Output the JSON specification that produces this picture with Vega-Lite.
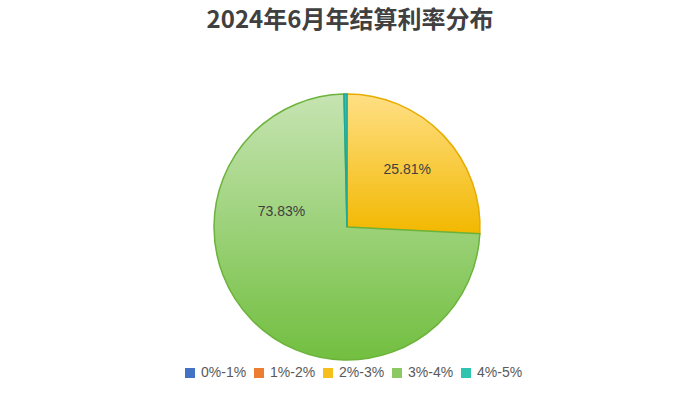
{
  "$schema": "https://vega.github.io/schema/vega-lite/v6.json",
  "autosize": {"type": "none"},
  "width": 266,
  "height": 266,
  "padding": {"left": 214, "top": 94, "right": 220, "bottom": 40},
  "background": "#ffffff",
  "title": {
    "text": "2024年6月年结算利率分布",
    "anchor": "middle",
    "dx": 3,
    "offset": 31,
    "font": "Noto Sans CJK SC",
    "fontSize": 24,
    "fontWeight": "bold",
    "color": "#404040"
  },
  "data": {
    "values": [
      {"cat": "0%-1%", "value": 0, "label": ""},
      {"cat": "1%-2%", "value": 0, "label": ""},
      {"cat": "2%-3%", "value": 25.81, "label": "25.81%"},
      {"cat": "3%-4%", "value": 73.83, "label": "73.83%"},
      {"cat": "4%-5%", "value": 0.36, "label": ""}
    ]
  },
  "encoding": {
    "theta": {"field": "value", "type": "quantitative", "stack": true},
    "order": {"field": "cat", "type": "ordinal", "sort": "ascending"}
  },
  "layer": [
    {
      "mark": {"type": "arc", "outerRadius": 133},
      "encoding": {
        "color": {
          "field": "cat",
          "type": "nominal",
          "scale": {
            "domain": ["0%-1%", "1%-2%", "2%-3%", "3%-4%", "4%-5%"],
            "range": ["#4472c4", "#ed7d31", "#f5bf1e", "#8cc963", "#2ec4b0"]
          },
          "legend": {
            "title": null,
            "orient": "none",
            "legendX": -31,
            "legendY": 272,
            "direction": "horizontal",
            "columns": 5,
            "symbolType": "square",
            "symbolSize": 100,
            "symbolStrokeWidth": 1,
            "labelFont": "Liberation Sans",
            "labelFontSize": 14,
            "labelColor": "#595959",
            "labelOffset": 4,
            "columnPadding": 5
          }
        }
      }
    },
    {
      "mark": {"type": "arc", "outerRadius": 133, "strokeWidth": 1.5},
      "encoding": {
        "fill": {
          "condition": [
            {"test": "datum.cat === '3%-4%'", "value": {"gradient": "linear", "x1": 0, "y1": 0, "x2": 0, "y2": 1, "stops": [{"offset": 0, "color": "#c6e4b2"}, {"offset": 1, "color": "#72bf40"}]}},
            {"test": "datum.cat === '2%-3%'", "value": {"gradient": "linear", "x1": 0, "y1": 0, "x2": 0, "y2": 1, "stops": [{"offset": 0, "color": "#ffdf85"}, {"offset": 1, "color": "#f2b800"}]}}
          ],
          "value": "#2ec4b0"
        },
        "stroke": {
          "condition": [
            {"test": "datum.cat === '3%-4%'", "value": "#6cb33c"},
            {"test": "datum.cat === '2%-3%'", "value": "#e6ac00"}
          ],
          "value": "#1fa898"
        }
      }
    },
    {
      "mark": {"type": "text", "radius": 83, "font": "Liberation Sans", "fontSize": 14, "color": "#404040"},
      "encoding": {
        "text": {"condition": {"test": "datum.cat === '2%-3%'", "field": "label"}, "value": ""}
      }
    },
    {
      "mark": {"type": "text", "radius": 83, "dx": -6, "dy": -73, "font": "Liberation Sans", "fontSize": 14, "color": "#404040"},
      "encoding": {
        "text": {"condition": {"test": "datum.cat === '3%-4%'", "field": "label"}, "value": ""}
      }
    }
  ]
}
